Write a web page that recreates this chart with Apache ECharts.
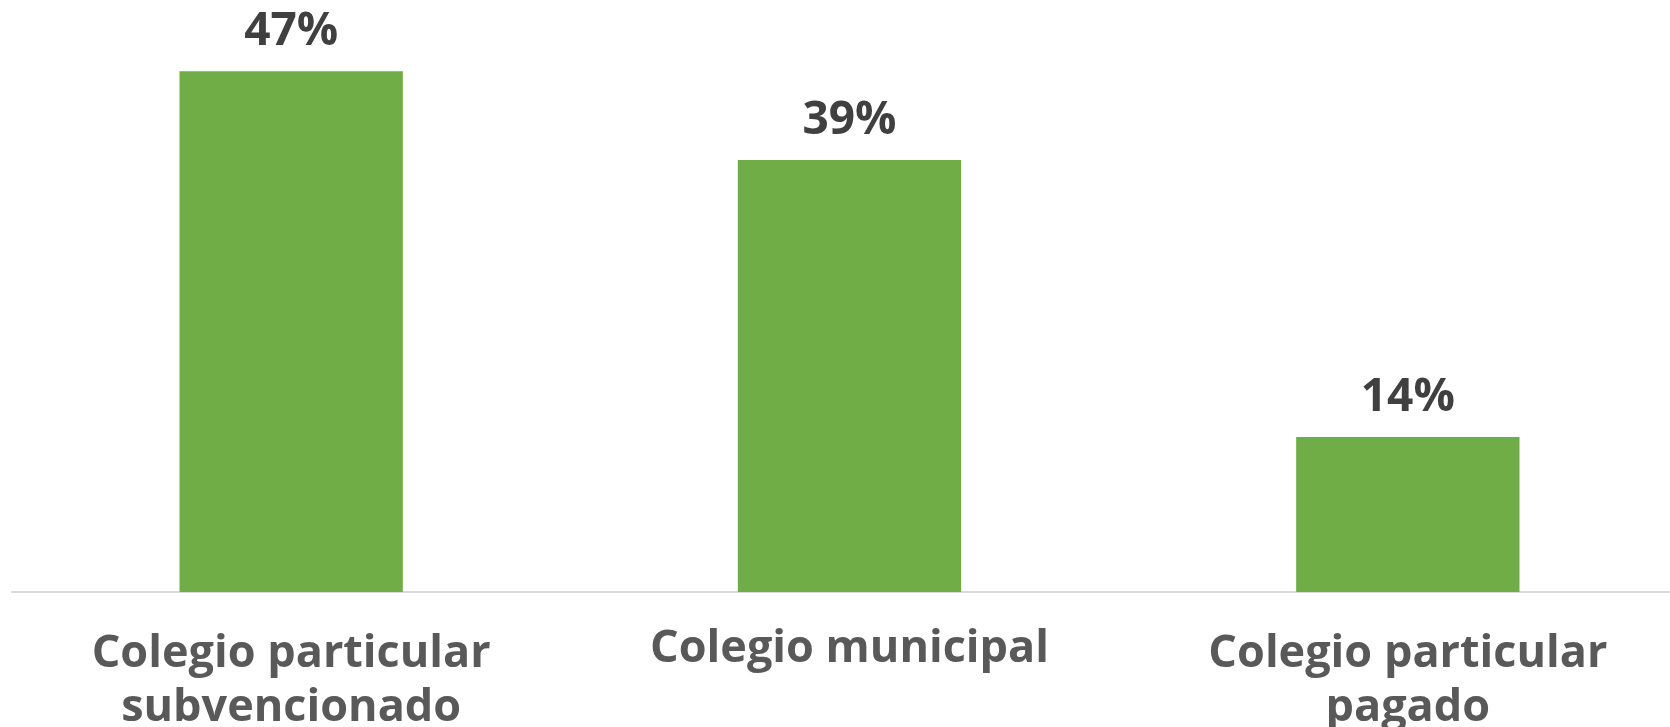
<!DOCTYPE html>
<html>
<head>
<meta charset="utf-8">
<script src="https://cdn.jsdelivr.net/npm/echarts@6/dist/echarts.min.js"></script>
<style>
  html, body { margin: 0; padding: 0; background: #fff; }
  #chart { width: 1670px; height: 727px; }
</style>
</head>
<body>
<div id="chart"></div>
<script>
// tipo de colegio
var categories = ['Colegio particular\nsubvencionado', 'Colegio municipal', 'Colegio particular\npagado'];
var values = [47, 39, 14];

var chart = echarts.init(document.getElementById('chart'));

chart.setOption({
  animation: false,
  grid: {
    left: 12,
    width: 1675,
    top: 38,
    bottom: 135,
    containLabel: false,
    outerBoundsMode: 'none'
  },
  xAxis: {
    type: 'category',
    data: categories,
    axisTick: { show: false },
    axisLine: { lineStyle: { color: '#d9d9d9', width: 2 } },
    axisLabel: {
      interval: 0,
      hideOverlap: false,
      margin: 35,
      color: '#595959',
      fontFamily: 'Open Sans',
      fontWeight: 'bold',
      fontSize: 45,
      lineHeight: 54,
      // the one-line label sits a bit higher in the original
      formatter: function (val) {
        return val.indexOf('\n') < 0 ? '{one|' + val + '}' : val;
      },
      rich: {
        one: {
          color: '#595959',
          fontFamily: 'Open Sans',
          fontWeight: 'bold',
          fontSize: 45,
          lineHeight: 44
        }
      }
    }
  },
  yAxis: {
    type: 'value',
    min: 0,
    max: 50,
    show: false,
    splitLine: { show: false }
  },
  series: [{
    type: 'bar',
    data: values,
    barWidth: '40%',
    itemStyle: { color: '#70AD47' },
    label: {
      show: true,
      position: 'top',
      distance: 16,
      formatter: '{c}%',
      color: '#404040',
      fontFamily: 'Open Sans',
      fontWeight: 'bold',
      fontSize: 46
    }
  }]
});
</script>
</body>
</html>
